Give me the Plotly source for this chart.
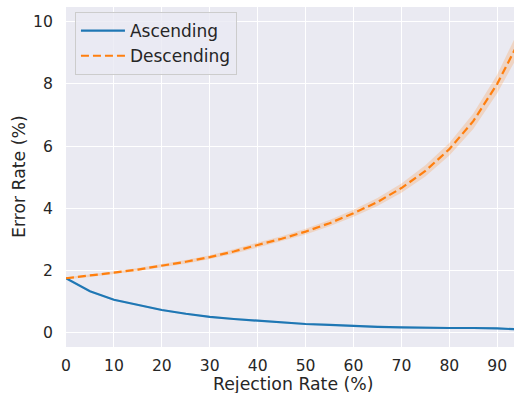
import plotly.graph_objects as go

rejection = [0, 5, 10, 15, 20, 25, 30, 35, 40, 45, 50, 55, 60, 65, 70, 75, 80, 85, 90, 95]
asc_mean = [1.75, 1.33, 1.06, 0.89, 0.73, 0.61, 0.51, 0.44, 0.38, 0.32, 0.28, 0.25, 0.21, 0.19, 0.17, 0.15, 0.15, 0.15, 0.14, 0.10]
asc_err = [0.02, 0.03, 0.03, 0.03, 0.03, 0.03, 0.03, 0.03, 0.03, 0.03, 0.03, 0.03, 0.03, 0.03, 0.03, 0.03, 0.03, 0.03, 0.03, 0.04]
desc_mean = [1.75, 1.83, 1.93, 2.03, 2.15, 2.28, 2.43, 2.61, 2.82, 3.02, 3.25, 3.52, 3.84, 4.2, 4.65, 5.2, 5.9, 6.8, 8.0, 9.5]
desc_err = [0.03, 0.04, 0.04, 0.05, 0.05, 0.06, 0.06, 0.07, 0.08, 0.08, 0.09, 0.1, 0.11, 0.13, 0.15, 0.18, 0.2, 0.25, 0.3, 0.4]

x_ticks = [0, 10, 20, 30, 40, 50, 60, 70, 80, 90]
y_ticks = [0, 2, 4, 6, 8, 10]
x_title = "Rejection Rate (%)"
y_title = "Error Rate (%)"

BLUE = "#1f77b4"
ORANGE = "#ff7f0e"
TXT = "#262626"
FONT = "DejaVu Sans"

fig = go.Figure()

def band(mean, err, color):
    lo = [m - e for m, e in zip(mean, err)]
    hi = [m + e for m, e in zip(mean, err)]
    fig.add_trace(go.Scatter(x=rejection, y=lo, mode="lines", line=dict(width=0, color=color),
                             showlegend=False, hoverinfo="skip"))
    fig.add_trace(go.Scatter(x=rejection, y=hi, mode="lines", line=dict(width=0, color=color),
                             fill="tonexty", fillcolor=color, showlegend=False, hoverinfo="skip"))

band(asc_mean, asc_err, "rgba(31,119,180,0.2)")
band(desc_mean, desc_err, "rgba(255,127,14,0.2)")

fig.add_trace(go.Scatter(x=rejection, y=asc_mean, mode="lines", name="Ascending",
                         line=dict(color=BLUE, width=2.2)))
fig.add_trace(go.Scatter(x=rejection, y=desc_mean, mode="lines", name="Descending",
                         line=dict(color=ORANGE, width=2.2, dash="8px,4px")))

fig.update_layout(
    width=514, height=393,
    margin=dict(l=66, r=0, t=7, b=46, autoexpand=False),
    paper_bgcolor="white",
    plot_bgcolor="#EAEAF2",
    font=dict(family=FONT, color=TXT, size=15.6),
    legend=dict(x=0.02, y=0.985, xanchor="left", yanchor="top", traceorder="normal",
                bgcolor="rgba(234,234,242,0.8)", bordercolor="#cccccc", borderwidth=1,
                itemwidth=44,
                font=dict(size=17, family=FONT, color=TXT), tracegroupgap=0),
    annotations=[
        dict(text=x_title, xref="paper", yref="paper", x=0.5, y=0, xanchor="center",
             yanchor="middle", xshift=3, yshift=-37, showarrow=False,
             font=dict(size=17.3, family=FONT, color=TXT)),
        dict(text=y_title, xref="paper", yref="paper", x=0, y=0.5, xanchor="center",
             yanchor="middle", xshift=-47, textangle=-90, showarrow=False,
             font=dict(size=17.3, family=FONT, color=TXT)),
    ],
)
fig.update_xaxes(range=[0, 93.5], tickvals=x_ticks, gridcolor="white", gridwidth=1.2,
                 zeroline=False, showline=False, ticks="outside", ticklen=4,
                 tickcolor="rgba(0,0,0,0)", tickfont=dict(size=15.6), automargin=False)
fig.update_yaxes(range=[-0.46, 10.47], tickvals=y_ticks, gridcolor="white", gridwidth=1.2,
                 zeroline=False, showline=False, ticks="outside", ticklen=9,
                 tickcolor="rgba(0,0,0,0)", tickfont=dict(size=15.6), automargin=False)

fig.write_html("out.html", config={"displayModeBar": False},
               post_script="document.body.style.margin='0';document.body.style.padding='0';")
